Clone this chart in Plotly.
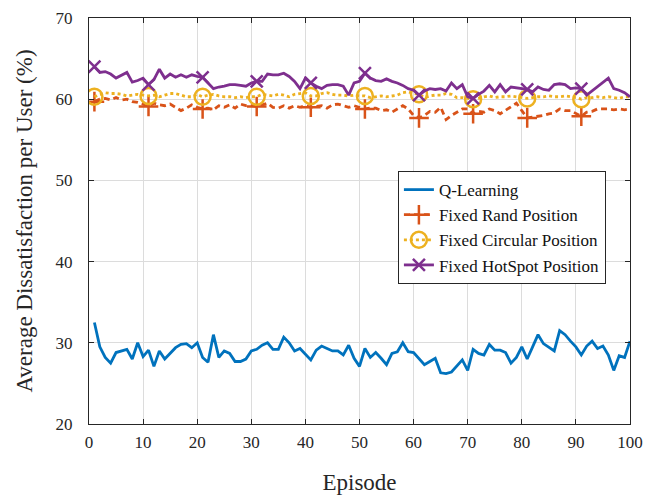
import plotly.graph_objects as go

episodes = list(range(1, 101))

q_learning = [32.5, 29.5, 28.2, 27.5, 28.8, 29.0, 29.2, 28.0, 30.0, 28.3,
              29.1, 27.1, 29.0, 28.0, 28.7, 29.4, 29.8, 29.9, 29.4, 30.0,
              28.2, 27.6, 31.0, 28.2, 29.0, 28.7, 27.7, 27.7, 28.0, 29.0,
              29.2, 29.7, 30.0, 29.2, 29.2, 30.7, 30.0, 29.0, 29.3, 28.6,
              27.9, 29.1, 29.6, 29.3, 29.0, 29.0, 28.5, 29.7, 28.1, 27.1,
              29.3, 28.2, 28.8, 28.1, 27.3, 28.7, 28.9, 30.0, 28.9, 28.8,
              28.1, 27.3, 27.7, 28.1, 26.3, 26.2, 26.4, 27.1, 27.9, 26.6,
              29.2, 28.7, 28.5, 29.8, 29.1, 29.1, 28.8, 27.5, 28.2, 29.5,
              28.0, 29.5, 31.0, 29.9, 29.4, 29.0, 31.5, 31.0, 30.2, 29.5,
              28.5, 29.6, 30.2, 29.3, 29.6, 28.5, 26.6, 28.4, 28.2, 30.2]

fixed_rand = [59.7, 60.0, 60.1, 59.9, 60.2, 59.9, 60.0, 59.7, 59.6, 59.4,
              59.1, 59.5, 59.3, 59.2, 59.4, 59.0, 58.6, 58.9, 59.3, 59.0,
              58.8, 58.9, 58.7, 59.2, 59.0, 59.3, 58.9, 59.4, 59.2, 59.2,
              59.1, 59.3, 59.5, 59.0, 58.9, 59.2, 58.9, 59.2, 59.0, 59.2,
              59.0, 59.1, 59.2, 58.9, 59.3, 59.4, 59.2, 59.0, 59.2, 59.0,
              58.8, 58.9, 58.9, 58.6, 58.7, 58.4, 58.8, 59.2, 58.8, 58.0,
              57.7, 58.0, 58.5, 58.4, 59.0, 57.5, 58.0, 58.4, 58.8, 58.8,
              58.2, 58.5, 58.4, 58.8, 58.6, 58.2, 58.6, 59.1, 59.5, 58.6,
              57.7, 57.8, 57.9, 58.0, 58.2, 58.3, 58.8, 58.6, 58.6, 58.3,
              57.9, 58.4, 58.5, 58.8, 58.8, 58.8, 58.7, 58.8, 58.7, 58.8]

fixed_circular = [60.3, 60.6, 60.8, 60.7, 60.7, 60.6, 60.4, 60.5, 60.6, 60.5,
                  60.4, 60.5, 60.3, 60.5, 60.7, 60.7, 60.5, 60.3, 60.3, 60.6,
                  60.3, 60.5, 60.6, 60.4, 60.3, 60.3, 60.2, 60.3, 60.2, 60.3,
                  60.3, 60.6, 60.5, 60.4, 60.6, 60.5, 60.3, 60.6, 60.7, 60.8,
                  60.4, 60.4, 60.7, 60.8, 60.6, 60.5, 60.5, 60.4, 60.5, 60.4,
                  60.4, 60.2, 60.3, 60.4, 60.3, 60.4, 60.5, 60.8, 60.9, 60.7,
                  60.6, 60.2, 60.4, 60.5, 60.5, 60.7, 60.6, 60.2, 60.2, 60.1,
                  60.0, 60.1, 60.3, 60.4, 60.2, 60.3, 60.3, 60.4, 60.3, 60.2,
                  60.1, 60.2, 60.3, 60.3, 60.4, 60.3, 60.3, 60.4, 60.3, 60.2,
                  60.0, 60.2, 60.2, 60.3, 60.2, 60.3, 60.2, 60.1, 60.3, 60.3]

fixed_hotspot = [64.0, 63.3, 63.4, 63.1, 62.6, 62.9, 63.3, 62.1, 62.3, 62.6,
                 61.8, 62.4, 63.7, 62.6, 63.1, 62.7, 63.0, 62.7, 63.0, 62.8,
                 62.7, 62.0, 61.3, 61.5, 61.6, 61.8, 61.8, 61.7, 61.6, 62.0,
                 62.2, 62.2, 63.1, 63.0, 63.0, 63.2, 62.8, 62.2, 61.3, 62.6,
                 62.0, 61.6, 61.3, 61.7, 61.8, 61.8, 61.6, 60.5, 62.0, 62.2,
                 63.2, 62.6, 62.3, 62.2, 62.5, 62.2, 62.0, 61.7, 61.3, 61.1,
                 60.5, 61.0, 61.3, 61.2, 61.3, 61.0, 62.0, 61.3, 61.8, 60.3,
                 60.1, 60.6, 61.0, 61.7, 60.9, 61.8, 60.9, 61.5, 61.4, 61.3,
                 61.2, 60.9, 61.5, 61.2, 61.1, 61.8, 61.9, 61.8, 61.3, 61.4,
                 61.3, 60.5, 61.0, 61.5, 62.0, 62.6, 61.3, 61.1, 60.8, 60.3]

series_names = ["Q-Learning", "Fixed Rand Position", "Fixed Circular Position", "Fixed HotSpot Position"]
x_ticks = [0, 10, 20, 30, 40, 50, 60, 70, 80, 90, 100]
y_ticks = [20, 30, 40, 50, 60, 70]

marker_idx = list(range(0, 100, 10))  # episodes 1, 11, 21, ...

styles = [
    dict(color="#0072BD", dash="solid", symbol=None, size=0),
    dict(color="#D95319", dash="6px,4px", symbol="cross-thin-open", size=14),
    dict(color="#EDB120", dash="3px,3px", symbol="circle-open", size=16),
    dict(color="#7E2F8E", dash="solid", symbol="x-thin-open", size=12),
]
data = [q_learning, fixed_rand, fixed_circular, fixed_hotspot]

fig = go.Figure()
for name, ys, st in zip(series_names, data, styles):
    line = dict(color=st["color"], width=2.8, dash=st["dash"])
    fig.add_trace(go.Scatter(x=episodes, y=ys, mode="lines", line=line,
                             showlegend=False, legendgroup=name, hoverinfo="skip"))
    if st["symbol"]:
        mk = dict(symbol=st["symbol"], size=st["size"],
                  line=dict(color=st["color"], width=2.5), color=st["color"])
        fig.add_trace(go.Scatter(x=[episodes[i] for i in marker_idx],
                                 y=[ys[i] for i in marker_idx],
                                 mode="markers", marker=mk, showlegend=False,
                                 legendgroup=name))
        fig.add_trace(go.Scatter(x=[None], y=[None], mode="lines+markers",
                                 line=line, marker=mk, name=name, legendgroup=name))
    else:
        fig.add_trace(go.Scatter(x=[None], y=[None], mode="lines",
                                 line=line, name=name, legendgroup=name))

axis_common = dict(
    showline=True, linecolor="#262626", linewidth=1, mirror="ticks",
    ticks="inside", ticklen=5, tickcolor="#262626", automargin=False,
    showgrid=True, gridcolor="#dcdcdc", gridwidth=1, zeroline=False,
    tickfont=dict(family="Liberation Serif", size=17, color="#262626"),
)

fig.update_xaxes(range=[0, 100], tickvals=x_ticks, ticklabelstandoff=3,
                 title=dict(text="Episode", font=dict(family="Liberation Serif", size=23, color="#262626"), standoff=27),
                 **axis_common)
fig.update_yaxes(range=[20, 70], tickvals=y_ticks, ticklabelstandoff=12,
                 title=dict(text="Average Dissatisfaction per User (%)", font=dict(family="Liberation Serif", size=23, color="#262626"), standoff=16),
                 **axis_common)

fig.update_layout(
    width=656, height=495,
    margin=dict(l=89, r=26, t=18, b=71),
    plot_bgcolor="white", paper_bgcolor="white",
    font=dict(family="Liberation Serif", color="#262626"),
    legend=dict(x=0.571, y=0.623, xanchor="left", yanchor="top",
                bgcolor="white", bordercolor="#262626", borderwidth=1,
                font=dict(family="Liberation Serif", size=17, color="#111111"),
                tracegroupgap=0, itemwidth=30),
)

fig.write_html("out.html")
